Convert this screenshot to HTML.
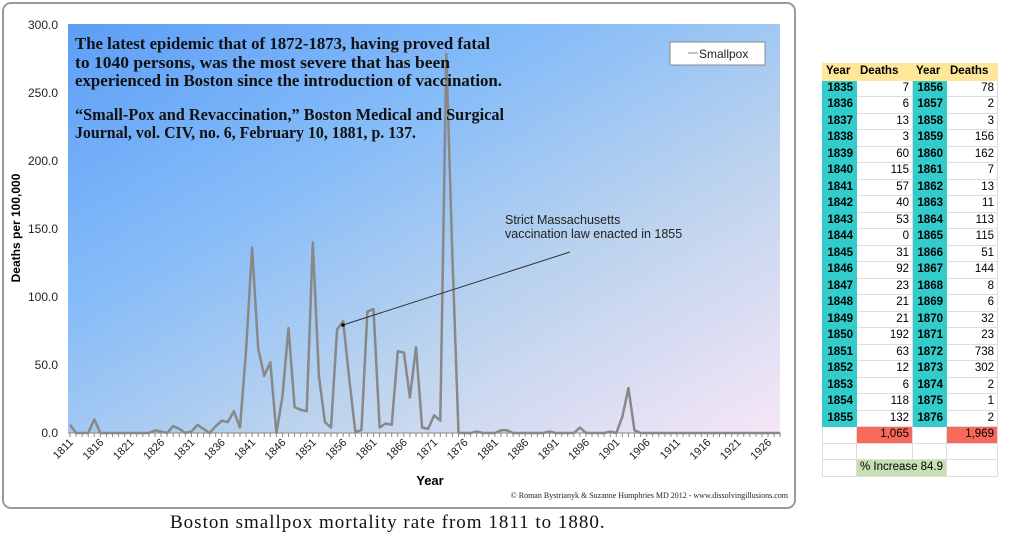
<!DOCTYPE html>
<html><head><meta charset="utf-8">
<style>
body{margin:0;width:1023px;height:546px;background:#fff;overflow:hidden;position:relative;font-family:"Liberation Sans",sans-serif}
#chart{position:absolute;left:0;top:0}
table{position:absolute;left:822px;top:63px;border-collapse:collapse;font-family:"Liberation Sans",sans-serif;font-size:11.5px}
td{height:16.5px;padding:0 3px;border:1px solid #ddd;line-height:15px;box-sizing:border-box}
td.y{background:#33cccc;font-weight:bold;text-align:right;width:34px;border-color:#33cccc}
td.d{text-align:right;width:56px}
td.d2{width:51px;text-align:right}
tr.h td{background:#ffe699;font-weight:bold;text-align:left;border-color:#ffe699}
td.r{background:#f8695c;text-align:right}
td.g{background:#c6e0b4}
.cap{position:absolute;left:170px;top:512px;font-family:"Liberation Serif",serif;font-size:19px;letter-spacing:1px;color:#111}
</style></head><body>
<svg id="chart" width="800" height="512" xmlns="http://www.w3.org/2000/svg">
<defs>
<linearGradient id="bg" x1="0" y1="0" x2="1" y2="1">
<stop offset="0" stop-color="#5c9ef7"/>
<stop offset="0.35" stop-color="#86bcf8"/>
<stop offset="0.65" stop-color="#bcd3ee"/>
<stop offset="1" stop-color="#f6e6f6"/>
</linearGradient>
</defs>
<rect x="3" y="3" width="792" height="505" rx="8" fill="#fff" stroke="#9a9a9a" stroke-width="2"/>
<rect x="68" y="24" width="712" height="409" fill="url(#bg)"/>
<g font-size="12" fill="#222" text-anchor="end">
<text x="58" y="437">0.0</text><text x="58" y="369">50.0</text><text x="58" y="301">100.0</text>
<text x="58" y="233">150.0</text><text x="58" y="165">200.0</text><text x="58" y="97">250.0</text><text x="58" y="29">300.0</text>
</g>
<line x1="68" y1="433" x2="780" y2="433" stroke="#888"/>
<g id="ticks" stroke="#888"></g>
<g id="xl" font-size="11" fill="#222"></g>
<text transform="translate(20,228) rotate(-90)" font-size="12" font-weight="bold" text-anchor="middle">Deaths per 100,000</text>
<text x="430" y="485" font-size="13" font-weight="bold" text-anchor="middle">Year</text>
<text x="788" y="498" font-size="8" font-family="Liberation Serif,serif" text-anchor="end" fill="#222">© Roman Bystrianyk &amp; Suzanne Humphries MD 2012 - www.dissolvingillusions.com</text>
<polyline id="ser" fill="none" stroke="#888" stroke-width="2.5" stroke-linejoin="round"/>
<g font-family="Liberation Serif,serif" font-weight="bold" font-size="16.5" fill="#111">
<text x="75" y="49" textLength="415" lengthAdjust="spacingAndGlyphs">The latest epidemic that of 1872-1873, having proved fatal</text>
<text x="75" y="68" textLength="375" lengthAdjust="spacingAndGlyphs">to 1040 persons, was the most severe that has been</text>
<text x="75" y="86" textLength="427" lengthAdjust="spacingAndGlyphs">experienced in Boston since the introduction of vaccination.</text>
<text x="75" y="120" textLength="429" lengthAdjust="spacingAndGlyphs">“Small-Pox and Revaccination,” Boston Medical and Surgical</text>
<text x="75" y="138" textLength="341" lengthAdjust="spacingAndGlyphs">Journal, vol. CIV, no. 6, February 10, 1881, p. 137.</text>
</g>
<rect x="670" y="42" width="95" height="23" fill="#fff" stroke="#888"/>
<line x1="688" y1="53" x2="698" y2="53" stroke="#888"/>
<text x="699" y="58" font-size="12" fill="#222">Smallpox</text>
<text x="505" y="224" font-size="12.5" fill="#222">Strict Massachusetts</text>
<text x="505" y="238" font-size="12.5" fill="#222">vaccination law enacted in 1855</text>
<line x1="570" y1="252" x2="343" y2="325" stroke="#333" stroke-width="1"/>
<circle cx="343" cy="325" r="1.8" fill="#000"/>
</svg>
<table>
<tr class="h"><td>Year</td><td>Deaths</td><td>Year</td><td>Deaths</td></tr>
<tr><td class="y">1835</td><td class="d">7</td><td class="y">1856</td><td class="d2">78</td></tr>
<tr><td class="y">1836</td><td class="d">6</td><td class="y">1857</td><td class="d2">2</td></tr>
<tr><td class="y">1837</td><td class="d">13</td><td class="y">1858</td><td class="d2">3</td></tr>
<tr><td class="y">1838</td><td class="d">3</td><td class="y">1859</td><td class="d2">156</td></tr>
<tr><td class="y">1839</td><td class="d">60</td><td class="y">1860</td><td class="d2">162</td></tr>
<tr><td class="y">1840</td><td class="d">115</td><td class="y">1861</td><td class="d2">7</td></tr>
<tr><td class="y">1841</td><td class="d">57</td><td class="y">1862</td><td class="d2">13</td></tr>
<tr><td class="y">1842</td><td class="d">40</td><td class="y">1863</td><td class="d2">11</td></tr>
<tr><td class="y">1843</td><td class="d">53</td><td class="y">1864</td><td class="d2">113</td></tr>
<tr><td class="y">1844</td><td class="d">0</td><td class="y">1865</td><td class="d2">115</td></tr>
<tr><td class="y">1845</td><td class="d">31</td><td class="y">1866</td><td class="d2">51</td></tr>
<tr><td class="y">1846</td><td class="d">92</td><td class="y">1867</td><td class="d2">144</td></tr>
<tr><td class="y">1847</td><td class="d">23</td><td class="y">1868</td><td class="d2">8</td></tr>
<tr><td class="y">1848</td><td class="d">21</td><td class="y">1869</td><td class="d2">6</td></tr>
<tr><td class="y">1849</td><td class="d">21</td><td class="y">1870</td><td class="d2">32</td></tr>
<tr><td class="y">1850</td><td class="d">192</td><td class="y">1871</td><td class="d2">23</td></tr>
<tr><td class="y">1851</td><td class="d">63</td><td class="y">1872</td><td class="d2">738</td></tr>
<tr><td class="y">1852</td><td class="d">12</td><td class="y">1873</td><td class="d2">302</td></tr>
<tr><td class="y">1853</td><td class="d">6</td><td class="y">1874</td><td class="d2">2</td></tr>
<tr><td class="y">1854</td><td class="d">118</td><td class="y">1875</td><td class="d2">1</td></tr>
<tr><td class="y">1855</td><td class="d">132</td><td class="y">1876</td><td class="d2">2</td></tr>
<tr><td></td><td class="d r">1,065</td><td></td><td class="d2 r">1,969</td></tr>
<tr><td></td><td></td><td></td><td></td></tr>
<tr><td></td><td class="g" colspan="2" style="position:relative">% Increase<span style="position:absolute;right:3px">84.9</span></td><td></td></tr>
</table>
<div class="cap">Boston smallpox mortality rate from 1811 to 1880.</div>
<script>
var v=[6,0,0,0,10,0,0,0,0,0,0,0,0,0,2,1,0,5,3,0,1,6,3,0,5,9,8,16,4,60,136,62,42,52,0,27,77,19,17,16,140,42,8,4,76,82,40,1,2,89,91,4,7,6,60,59,26,63,4,3,13,9,278,130,0,0,0,1,0,0,0,2,2,0,0,0,0,0,0,1,0,0,0,0,4,0,0,0,0,1,0,12,33,2,0];
while(v.length<118)v.push(0);
function X(i){return 70+i*6.07}
var p=[];for(var i=0;i<v.length;i++)p.push(X(i).toFixed(1)+","+(433-v[i]*1.363).toFixed(1));
document.getElementById("ser").setAttribute("points",p.join(" "));
var t="",l="";
for(var i=0;i<118;i++){var x=X(i);t+='<line x1="'+x+'" y1="433" x2="'+x+'" y2="437"/>';
if(i%5==0&&i<=115)l+='<text text-anchor="end" transform="translate('+(x+4)+',443) rotate(-45)">'+(1811+i)+'</text>';}
document.getElementById("ticks").innerHTML=t;document.getElementById("xl").innerHTML=l;
</script>
</body></html>
